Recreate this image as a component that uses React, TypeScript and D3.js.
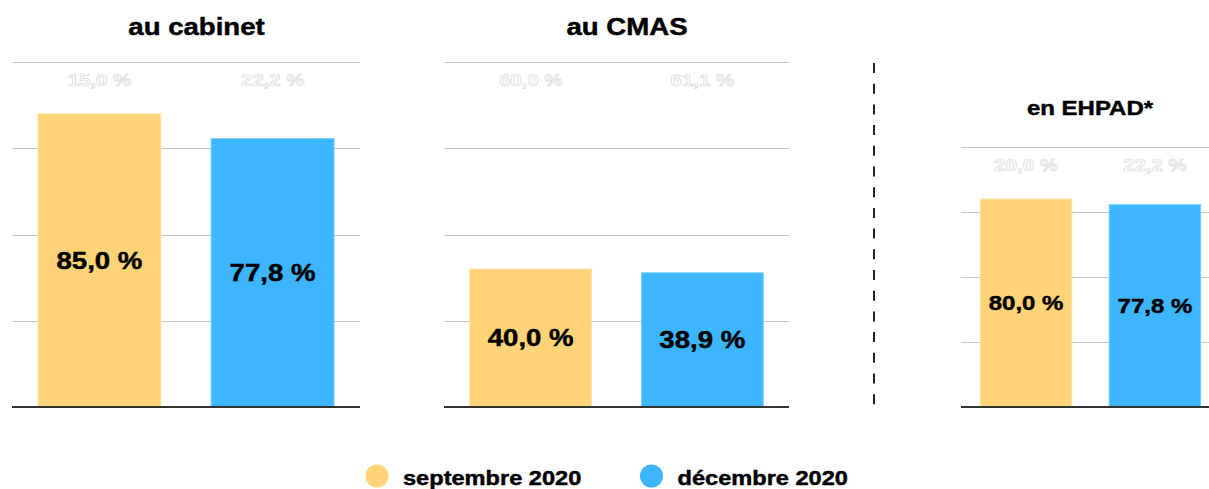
import React from "react";
import * as d3 from "d3";

// ---- data ----
const panels = ["au cabinet", "au CMAS", "en EHPAD*"];
const series = ["septembre 2020", "décembre 2020"];
const septValues = [85.0, 40.0, 80.0];
const decValues = [77.8, 38.9, 77.8];
const ticks = [0, 25, 50, 75, 100];

const colors = ["#FFD479", "#3DB5FF"];
const strokeColors = ["#FFE3A6", "#7ACCFF"];

const FONT = "'Liberation Sans', Arial, Helvetica, sans-serif";
const SX = 1.2;

// layout (positions only)
const layout = [
  { x0: 12, x1: 360, top: 62, bottom: 407, titleX: 196.5, titleY: 35, titleSize: 23, labelSize: 23, topLabelSize: 17 },
  { x0: 444, x1: 789, top: 62, bottom: 407, titleX: 627, titleY: 35, titleSize: 23, labelSize: 23, topLabelSize: 17 },
  { x0: 961, x1: 1220, top: 147, bottom: 407, titleX: 1090, titleY: 115, titleSize: 20, labelSize: 20, topLabelSize: 17 },
];

const fmt = (v: number) => v.toFixed(1).replace(".", ",") + " %";

function SText(props: {
  x: number; y: number; size: number; anchor?: string; fill?: string;
  stroke?: string; strokeWidth?: number; children: React.ReactNode; sx?: number;
}) {
  const { x, y, size, anchor = "middle", fill = "#000", stroke = "#000", strokeWidth = 0.45, children, sx = SX } = props;
  return (
    <text
      transform={`translate(${x},${y}) scale(${sx},1)`}
      textAnchor={anchor}
      fontFamily={FONT}
      fontWeight="bold"
      fontSize={size}
      fill={fill}
      stroke={stroke}
      strokeWidth={strokeWidth}
    >
      {children}
    </text>
  );
}

export default function App() {
  const W = 1209;
  const H = 489;
  return (
    <svg
      width={W}
      height={H}
      viewBox={`0 0 ${W} ${H}`}
      style={{ position: "absolute", left: 0, top: 0, background: "#fff" }}
    >
      {panels.map((title, i) => {
        const L = layout[i];
        const y = d3.scaleLinear().domain([0, 100]).range([L.bottom, L.top]);
        const x = d3
          .scaleBand<string>()
          .domain(series)
          .range([L.x0, L.x1])
          .paddingInner(0.29)
          .paddingOuter(0.15);
        const vals = [septValues[i], decValues[i]];
        return (
          <g key={title}>
            <SText x={L.titleX} y={L.titleY} size={L.titleSize}>{title}</SText>
            {ticks.slice(1).map((t) => (
              <line
                key={t}
                x1={L.x0}
                x2={L.x1}
                y1={Math.round(y(t)) + 0.5}
                y2={Math.round(y(t)) + 0.5}
                stroke="#c4c4c4"
                strokeWidth={1.2}
              />
            ))}
            {series.map((s, j) => {
              const v = vals[j];
              const bx = x(s)!;
              const bw = x.bandwidth();
              const cx = bx + bw / 2;
              const yTop = y(v);
              const yMid = (y(v) + y(0)) / 2;
              return (
                <g key={s}>
                  <rect
                    x={bx}
                    y={yTop}
                    width={bw}
                    height={y(0) - yTop}
                    fill={colors[j]}
                    stroke={strokeColors[j]}
                    strokeWidth={1}
                  />
                  <SText x={cx} y={yMid + L.labelSize * 0.36} size={L.labelSize}>
                    {fmt(v)}
                  </SText>
                  <SText
                    x={cx}
                    y={y(100) + 23.5}
                    size={L.topLabelSize}
                    fill="#ffffff"
                    stroke="#dadada"
                    strokeWidth={0.7}
                  >
                    {fmt(100 - v)}
                  </SText>
                </g>
              );
            })}
            <line x1={L.x0} x2={L.x1} y1={407} y2={407} stroke="#333" strokeWidth={2} />
          </g>
        );
      })}
      <line x1={874} x2={874} y1={63} y2={405} stroke="#222" strokeWidth={2} strokeDasharray="10,10.7" />
      {series.map((s, j) => {
        const cx = [377, 651.5][j];
        return (
          <g key={s}>
            <circle cx={cx} cy={476} r={11.5} fill={colors[j]} />
            <SText x={cx + 26} y={485} size={20} anchor="start" sx={1.18}>{s}</SText>
          </g>
        );
      })}
    </svg>
  );
}
